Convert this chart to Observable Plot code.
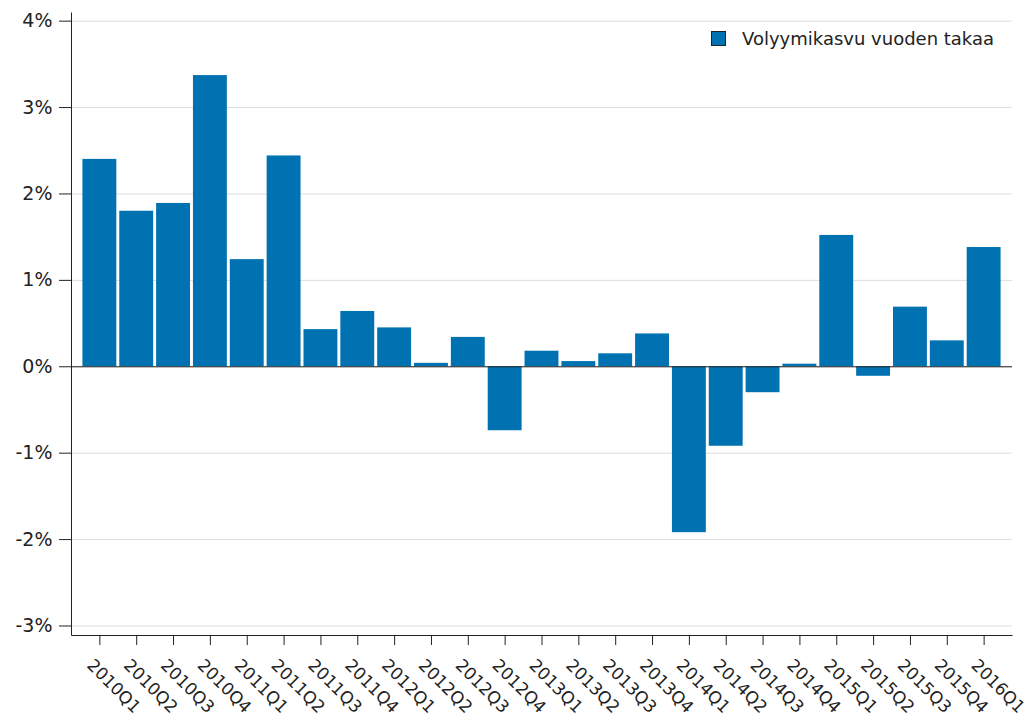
<!DOCTYPE html>
<html><head><meta charset="utf-8">
<script src="https://cdn.jsdelivr.net/npm/d3@7"></script>
<script src="https://cdn.jsdelivr.net/npm/@observablehq/plot@0.6"></script>
<style>
body{margin:0;background:#fff;}
#wrap{position:relative;width:1030px;height:723px;}
.legend{position:absolute;left:711px;top:28px;display:flex;align-items:center;font:18px "DejaVu Sans";color:#222;white-space:nowrap;}
.legend .sw{display:inline-block;width:13px;height:13px;background:#0072b2;border:1px solid #222;margin-right:16px;}
</style></head><body>
<div id="wrap"><div id="chart"></div><div class="legend"><span class="sw"></span><span id="lt"></span></div></div>
<script>
const quarters = ["2010Q1","2010Q2","2010Q3","2010Q4","2011Q1","2011Q2","2011Q3","2011Q4","2012Q1","2012Q2","2012Q3","2012Q4","2013Q1","2013Q2","2013Q3","2013Q4","2014Q1","2014Q2","2014Q3","2014Q4","2015Q1","2015Q2","2015Q3","2015Q4","2016Q1"];
const growth = [2.40,1.80,1.89,3.37,1.24,2.44,0.43,0.64,0.45,0.04,0.34,-0.74,0.18,0.06,0.15,0.38,-1.92,-0.92,-0.30,0.03,1.52,-0.11,0.69,0.30,1.38];
const yTicks = [-3,-2,-1,0,1,2,3,4];
const seriesName = "Volyymikasvu vuoden takaa";

document.getElementById("lt").textContent = seriesName;
const data = quarters.map((q,i)=>({q, v: growth[i]}));
const W=1030,H=723,mL=71,mR=18,mT=12,mB=88;
const fw = W-mL-mR, fh = H-mT-mB;
const plot = Plot.plot({
  width:W,height:H,marginLeft:mL,marginRight:mR,marginTop:mT,marginBottom:mB,
  style:{fontFamily:"DejaVu Sans",fontSize:"17px",color:"#222",background:"#fff"},
  x:{domain:quarters,paddingInner:0.08,paddingOuter:0.31,round:false,label:null},
  y:{domain:[-3.11,4.1],label:null},
  marks:[
    Plot.ruleY(yTicks,{stroke:"#ddd"}),
    Plot.barY(data,{x:"q",y:"v",fill:"#0072b2"}),
    Plot.ruleY([0],{stroke:"#222"}),
    Plot.frame({stroke:"#222",strokeDasharray:`0 ${fw+fh} ${fw+fh}`}),
    Plot.axisY({ticks:yTicks,tickFormat:d=>d+"%",tickSize:12,tickPadding:7,fontSize:19,label:null}),
    Plot.axisX({tickSize:10,tickFormat:()=>"",label:null}),
    Plot.axisX({tickSize:0,tickRotate:45,tickPadding:14,dx:-10,dy:13,fontSize:17,label:null})
  ]
});
document.getElementById("chart").append(plot);
</script>
</body></html>
